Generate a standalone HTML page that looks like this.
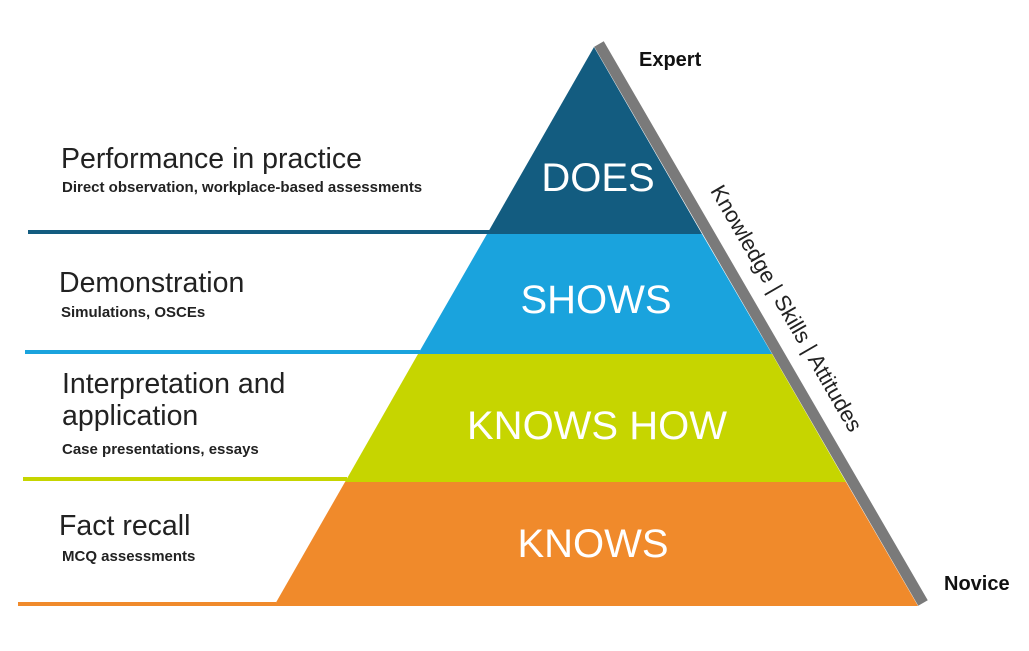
<!DOCTYPE html>
<html><head><style>body{margin:0;background:#fff}svg{display:block}</style></head><body>
<svg width="1029" height="651" viewBox="0 0 1029 651" xmlns="http://www.w3.org/2000/svg" font-family="Liberation Sans, sans-serif">
<rect width="1029" height="651" fill="#fff"/>
<line x1="599" y1="44" x2="923" y2="603" stroke="#7a7a7a" stroke-width="11"/>
<polygon points="594,47 702,234 487,234" fill="#135c80"/>
<polygon points="487,234 702,234 772,354 418,354" fill="#1aa3dd"/>
<polygon points="418,354 772,354 846,482 345,482" fill="#c6d500"/>
<polygon points="345,482 846,482 918,606 274,606" fill="#f08a2b"/>
<line x1="28" y1="232" x2="490" y2="232" stroke="#135c80" stroke-width="4"/>
<line x1="25" y1="352" x2="420" y2="352" stroke="#1aa3dd" stroke-width="4"/>
<line x1="23" y1="479" x2="347" y2="479" stroke="#c6d500" stroke-width="4"/>
<line x1="18" y1="604" x2="276" y2="604" stroke="#f08a2b" stroke-width="4"/>
<g fill="#fff" font-size="40" text-anchor="middle">
<text x="598" y="191">DOES</text>
<text x="596" y="313">SHOWS</text>
<text x="597" y="439">KNOWS HOW</text>
<text x="593" y="557">KNOWS</text>
</g>
<g fill="#222">
<text x="61" y="168" font-size="28.5">Performance in practice</text>
<text x="62" y="192" font-size="15" font-weight="bold">Direct observation,  workplace-based assessments</text>
<text x="59" y="292" font-size="28.5">Demonstration</text>
<text x="61" y="317" font-size="15" font-weight="bold">Simulations, OSCEs</text>
<text x="62" y="393" font-size="28.5">Interpretation and</text>
<text x="62" y="425" font-size="28.5">application</text>
<text x="62" y="454" font-size="15" font-weight="bold">Case presentations, essays</text>
<text x="59" y="535" font-size="28.5">Fact recall</text>
<text x="62" y="561" font-size="15" font-weight="bold">MCQ assessments</text>
</g>
<text x="639" y="66" font-size="20" font-weight="bold" fill="#111">Expert</text>
<text x="944" y="590" font-size="20" font-weight="bold" fill="#111">Novice</text>
<text transform="translate(780,312) rotate(60)" text-anchor="middle" font-size="22" fill="#222">Knowledge | Skills | Attitudes</text>
</svg>
</body></html>
